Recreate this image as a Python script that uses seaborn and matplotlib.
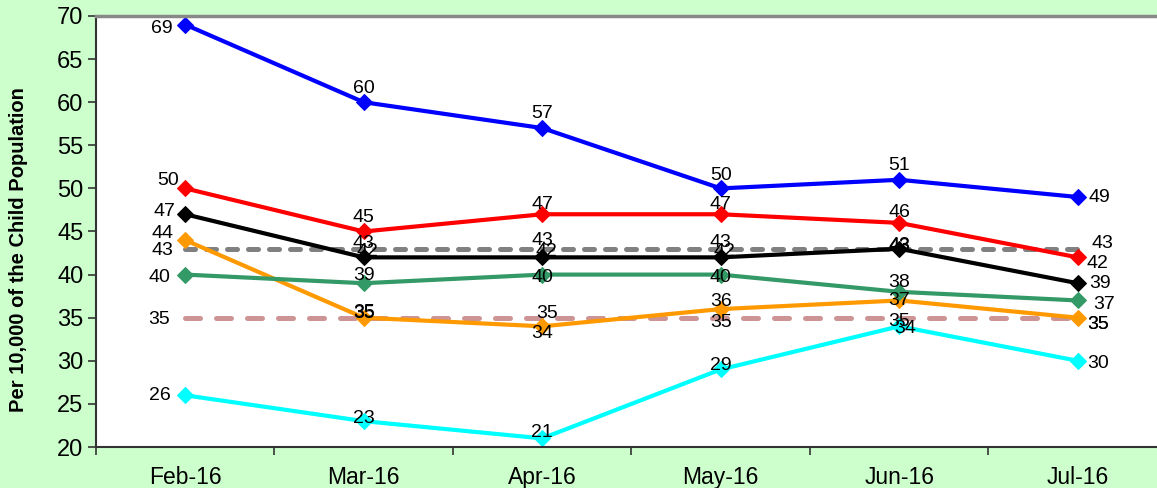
import pandas as pd
import matplotlib
matplotlib.use("Agg")
import matplotlib.pyplot as plt
import seaborn as sns

# data
months = ["Feb-16", "Mar-16", "Apr-16", "May-16", "Jun-16", "Jul-16"]
blue_vals = [69, 60, 57, 50, 51, 49]
red_vals = [50, 45, 47, 47, 46, 42]
black_vals = [47, 42, 42, 42, 43, 39]
gray_vals = [43, 43, 43, 43, 43, 43]
green_vals = [40, 39, 40, 40, 38, 37]
orange_vals = [44, 35, 34, 36, 37, 35]
rose_vals = [35, 35, 35, 35, 35, 35]
cyan_vals = [26, 23, 21, 29, 34, 30]

series = {
    "blue": blue_vals, "red": red_vals, "black": black_vals, "gray": gray_vals,
    "green": green_vals, "orange": orange_vals, "rose": rose_vals, "cyan": cyan_vals,
}

# styling: colour, dashes, marker
styles = {
    "blue": ("#0000FF", None, "D"),
    "red": ("#FF0000", None, "D"),
    "black": ("#000000", None, "D"),
    "gray": ("#808080", (2.0, 2.2), None),
    "green": ("#339966", None, "D"),
    "orange": ("#FF9900", None, "D"),
    "rose": ("#CC9494", (3.0, 3.2), None),
    "cyan": ("#00FFFF", None, "D"),
}

# data label offsets in pixels (dx, dy up)
label_off = {
    "blue": [(-23, -4), (0, 14), (0, 15), (0, 13), (0, 14), (22, 0)],
    "red": [(-17, 8), (0, 14), (0, 10), (0, 10), (0, 10), (20, -6)],
    "black": [(-21, 3), (4, 6), (4, 6), (4, 6), (0, 2), (22, 0)],
    "gray": [(-23, -2), (0, 5), (0, 8), (0, 6), (0, 3), (25, 5)],
    "green": [(-26, -3), (0, 8), (0, -3), (0, -3), (0, 9), (26, -4)],
    "orange": [(-23, 7), (0, 5), (0, -7), (0, 8), (0, 0), (20, -7)],
    "rose": [(-26, -2), (0, 4), (5, 4), (0, -5), (0, -4), (20, -7)],
    "cyan": [(-25, 0), (0, 3), (0, 6), (0, 4), (6, -2), (20, -3)],
}

rows = []
for name, vals in series.items():
    for m, v in zip(months, vals):
        rows.append({"Month": m, "Value": v, "Series": name})
df = pd.DataFrame(rows)

sns.set_theme(style="white")
plt.rcParams["font.family"] = ["Liberation Sans", "DejaVu Sans"]

fig = plt.figure(figsize=(11.57, 4.88), dpi=100, facecolor="#CCFFCC")
ax = fig.add_axes([96 / 1157, 41 / 488, 1071 / 1157, 431 / 488])
ax.set_facecolor("white")

order = ["gray", "rose", "cyan", "orange", "green", "black", "red", "blue"]
for name in order:
    color, dash, marker = styles[name]
    sub = df[df["Series"] == name]
    if dash is None:
        sns.lineplot(data=sub, x="Month", y="Value", ax=ax, color=color,
                     linewidth=3, marker=marker, markersize=8.5,
                     markeredgecolor=color, sort=False)
    else:
        line = sns.lineplot(data=sub, x="Month", y="Value", ax=ax, color=color,
                            linewidth=3.6, sort=False).lines[-1]
        line.set_dashes(dash)
        line.set_dash_capstyle("round")

for name, vals in series.items():
    for i, v in enumerate(vals):
        dx, dy = label_off[name][i]
        ax.annotate(str(v), (i, v), xytext=(dx * 0.72, dy * 0.72),
                    textcoords="offset points", ha="center", va="center",
                    fontsize=14, color="black")

ax.set_xlim(-0.5, 5.5)
ax.set_ylim(20, 70)
ax.set_yticks(range(20, 71, 5))
ax.set_xlabel("")
ax.set_ylabel("")
ax.set_xticks(range(len(months)))
ax.set_xticklabels(months)
ax.set_xticks([i - 0.5 for i in range(len(months) + 1)], minor=True)
ax.tick_params(axis="x", which="major", length=0, pad=14, labelsize=16.5, labelcolor="black")
ax.tick_params(axis="x", which="minor", length=6, width=1.2, color="#333333", direction="out", bottom=True)
ax.tick_params(axis="y", length=6, width=1.2, color="#333333", direction="out", left=True,
               labelsize=17, pad=3, labelcolor="black")

for side in ["left", "bottom"]:
    ax.spines[side].set_color("#333333")
    ax.spines[side].set_linewidth(1.5)
ax.spines["top"].set_color("#888888")
ax.spines["top"].set_linewidth(2.5)
ax.spines["right"].set_visible(False)

fig.text(19 / 1157, 1 - 250 / 488, "Per 10,000 of the Child Population", rotation=90,
         ha="center", va="center", fontsize=14.5, fontweight="bold", color="black")

fig.savefig("out.png", dpi=100, facecolor=fig.get_facecolor())
